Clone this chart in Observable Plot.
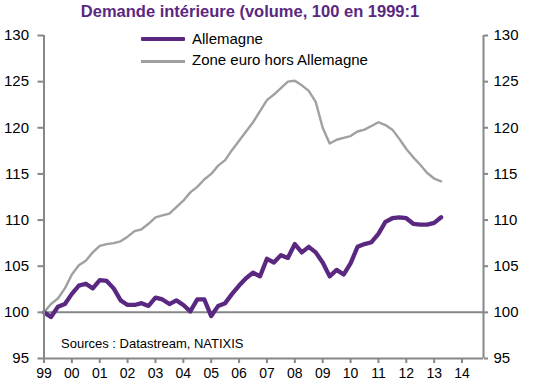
<!DOCTYPE html>
<html>
<head>
<meta charset="utf-8">
<script src="https://cdn.jsdelivr.net/npm/d3@7"></script>
<script src="https://cdn.jsdelivr.net/npm/@observablehq/plot@0.6"></script>
<style>
  body { margin: 0; background: #fff; }
  #wrap { position: relative; width: 533px; height: 389px; font-family: "Liberation Sans", Arial, sans-serif; }
  #wrap svg { position: absolute; left: 0; top: 0; }
  .ov { position: absolute; white-space: nowrap; line-height: 1; }
  #title { left: 0; width: 500px; text-align: center; top: 3px; font-size: 16.5px; font-weight: bold; color: #5a2781; }
  .lg { font-size: 15px; color: #000; }
  .sw { position: absolute; }
  #src { font-size: 13px; color: #000; }
</style>
</head>
<body>
<div id="wrap"></div>
<script>
const startYear = 1999; // first quarter 1999:1
const allemagne = [
  100.0, 99.5, 100.6, 100.9,
  102.0, 102.9, 103.1, 102.6,
  103.5, 103.4, 102.6, 101.3,
  100.8, 100.8, 101.0, 100.7,
  101.6, 101.4, 100.9, 101.3,
  100.8, 100.1, 101.4, 101.4,
  99.6, 100.7, 101.0, 102.0,
  102.9, 103.7, 104.3, 103.9,
  105.8, 105.4, 106.2, 105.9,
  107.4, 106.5, 107.1, 106.5,
  105.4, 103.9, 104.6, 104.1,
  105.3, 107.1, 107.4, 107.6,
  108.5, 109.8, 110.2, 110.3,
  110.2, 109.6, 109.5, 109.5,
  109.7, 110.3
];
const zoneEuro = [
  100.0, 100.9, 101.5, 102.6,
  104.1, 105.1, 105.6, 106.5,
  107.2, 107.4, 107.5, 107.7,
  108.2, 108.8, 109.0, 109.6,
  110.3, 110.5, 110.7, 111.4,
  112.1, 113.0, 113.6, 114.4,
  115.0, 115.9, 116.5, 117.6,
  118.6, 119.6, 120.6, 121.8,
  123.0, 123.6, 124.3, 125.0,
  125.1, 124.6, 124.0, 122.8,
  120.0, 118.3, 118.7, 118.9,
  119.1, 119.6, 119.8, 120.2,
  120.6, 120.3, 119.8, 118.8,
  117.7, 116.8, 116.0, 115.1,
  114.5, 114.2
];
const yearTicks = [1999,2000,2001,2002,2003,2004,2005,2006,2007,2008,2009,2010,2011,2012,2013,2014];
const yearLabels = ["99","00","01","02","03","04","05","06","07","08","09","10","11","12","13","14"];
const yTicks = [95,100,105,110,115,120,125,130];
const xDomain = [1999, 2014.77];
const yDomain = [95, 130];
const seriesNames = ["Allemagne", "Zone euro hors Allemagne"];
const titleText = "Demande intérieure (volume, 100 en 1999:1";
const sourceText = "Sources : Datastream, NATIXIS";

const purple = "#5a2781";
const grey = "#a0a0a0";
const axisGrey = "#878787";

const dataDE = allemagne.map((v, i) => ({t: startYear + i / 4, v}));
const dataEZ = zoneEuro.map((v, i) => ({t: startYear + i / 4, v}));

const chart = Plot.plot({
  width: 533,
  height: 389,
  marginTop: 35,
  marginBottom: 31,
  marginLeft: 43.5,
  marginRight: 50,
  style: {fontFamily: "'Liberation Sans', Arial, sans-serif", background: "white", color: "#000"},
  x: {domain: xDomain, label: null},
  y: {domain: yDomain, label: null},
  marks: [
    Plot.ruleY([100], {stroke: axisGrey, strokeWidth: 2}),
    Plot.lineY(dataEZ, {x: "t", y: "v", stroke: grey, strokeWidth: 2.4, strokeLinejoin: "round"}),
    Plot.lineY(dataDE, {x: "t", y: "v", stroke: purple, strokeWidth: 4.3, strokeLinejoin: "round", strokeLinecap: "round"}),
    Plot.ruleX([xDomain[0]], {stroke: axisGrey, strokeWidth: 2}),
    Plot.ruleX([xDomain[1]], {stroke: axisGrey, strokeWidth: 2}),
    Plot.ruleY([yDomain[0]], {stroke: axisGrey, strokeWidth: 2}),
    Plot.axisY({anchor: "left", label: null, ticks: yTicks, tickSize: 6, tickPadding: 9, stroke: axisGrey, strokeWidth: 2, fill: "#000", fontSize: 15, tickFormat: d => String(d)}),
    Plot.axisY({anchor: "right", label: null, ticks: yTicks, tickSize: 4, tickPadding: 6, stroke: axisGrey, strokeWidth: 2, fill: "#000", fontSize: 15, tickFormat: d => String(d)}),
    Plot.axisX({anchor: "bottom", label: null, ticks: yearTicks, tickSize: 5, tickPadding: 5, stroke: axisGrey, strokeWidth: 2, fill: "#000", fontSize: 14, tickFormat: d => yearLabels[yearTicks.indexOf(d)]})
  ]
});

const wrap = document.getElementById("wrap");
wrap.appendChild(chart);

function ov(id, cls, text, css) {
  const d = document.createElement("div");
  if (id) d.id = id;
  d.className = cls;
  d.textContent = text;
  Object.assign(d.style, css || {});
  wrap.appendChild(d);
  return d;
}
ov("title", "ov", titleText);
// legend
const sw1 = document.createElement("div");
sw1.className = "sw";
Object.assign(sw1.style, {left: "141px", top: "37px", width: "44px", height: "4px", background: purple, borderRadius: "1px"});
wrap.appendChild(sw1);
const sw2 = document.createElement("div");
sw2.className = "sw";
Object.assign(sw2.style, {left: "141px", top: "59.5px", width: "44px", height: "3px", background: grey});
wrap.appendChild(sw2);
ov(null, "ov lg", seriesNames[0], {left: "192px", top: "31px"});
ov(null, "ov lg", seriesNames[1], {left: "192px", top: "51.5px"});
ov("src", "ov", sourceText, {left: "61px", top: "337px"});
</script>
</body>
</html>
